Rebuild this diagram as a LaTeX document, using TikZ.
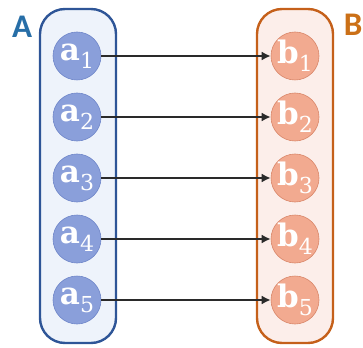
\documentclass[tikz,border=0pt]{standalone}
\usepackage{fontspec}
\newfontfamily\labfont{Carlito}
\newfontfamily\elfont{DejaVu Serif}
\usetikzlibrary{arrows.meta}
\definecolor{bluebd}{HTML}{2E5597}
\definecolor{bluebg}{HTML}{EEF3FB}
\definecolor{bluec}{HTML}{8A9FDA}
\definecolor{bluecb}{HTML}{6F86C9}
\definecolor{orbd}{HTML}{C5601A}
\definecolor{orbg}{HTML}{FCEEEA}
\definecolor{orc}{HTML}{F2AA90}
\definecolor{orcb}{HTML}{D9876A}
\definecolor{arr}{HTML}{2A2A2A}
\newcommand{\elab}[2]{\elfont\fontsize{31}{31}\selectfont\bfseries #1\kern0pt\raisebox{-8pt}{\fontsize{22}{22}\selectfont\mdseries #2}}
\tikzset{
  setbox/.style={rounded corners=25pt, line width=2.4pt, minimum width=76pt, minimum height=334pt, inner sep=0pt},
  elem/.style={circle, minimum size=48pt, inner sep=0pt, line width=0.6pt, text=white},
  conn/.style={draw=arr, line width=2.4pt, -{Latex[length=9pt,width=9pt]}},
  setlab/.style={font=\labfont\fontsize{33}{33}\selectfont\bfseries, inner sep=0pt}
}
\begin{document}
\begin{tikzpicture}[x=1pt,y=-1pt]
\useasboundingbox (0,0) rectangle (363,347);
\node[setbox, draw=bluebd, fill=bluebg] (setA) at (78,176) {};
\node[setbox, draw=orbd, fill=orbg] (setB) at (295,176) {};
\node[setlab, text=bluebd!85!cyan] (labA) at (22,27) {A};
\node[setlab, text=orbd!90!yellow] (labB) at (353,25) {B};
\foreach \i/\y in {1/56,2/117,3/178,4/239,5/300}{
  \node[elem, fill=bluec, draw=bluecb] (a\i) at (77,\y) {\elab{a}{\i}};
  \node[elem, fill=orc, draw=orcb] (b\i) at (295,\y) {\elab{b}{\i}};
}
\foreach \i in {1,...,5}{
  \draw[conn] (a\i) -- (b\i);
}
\end{tikzpicture}
\end{document}
